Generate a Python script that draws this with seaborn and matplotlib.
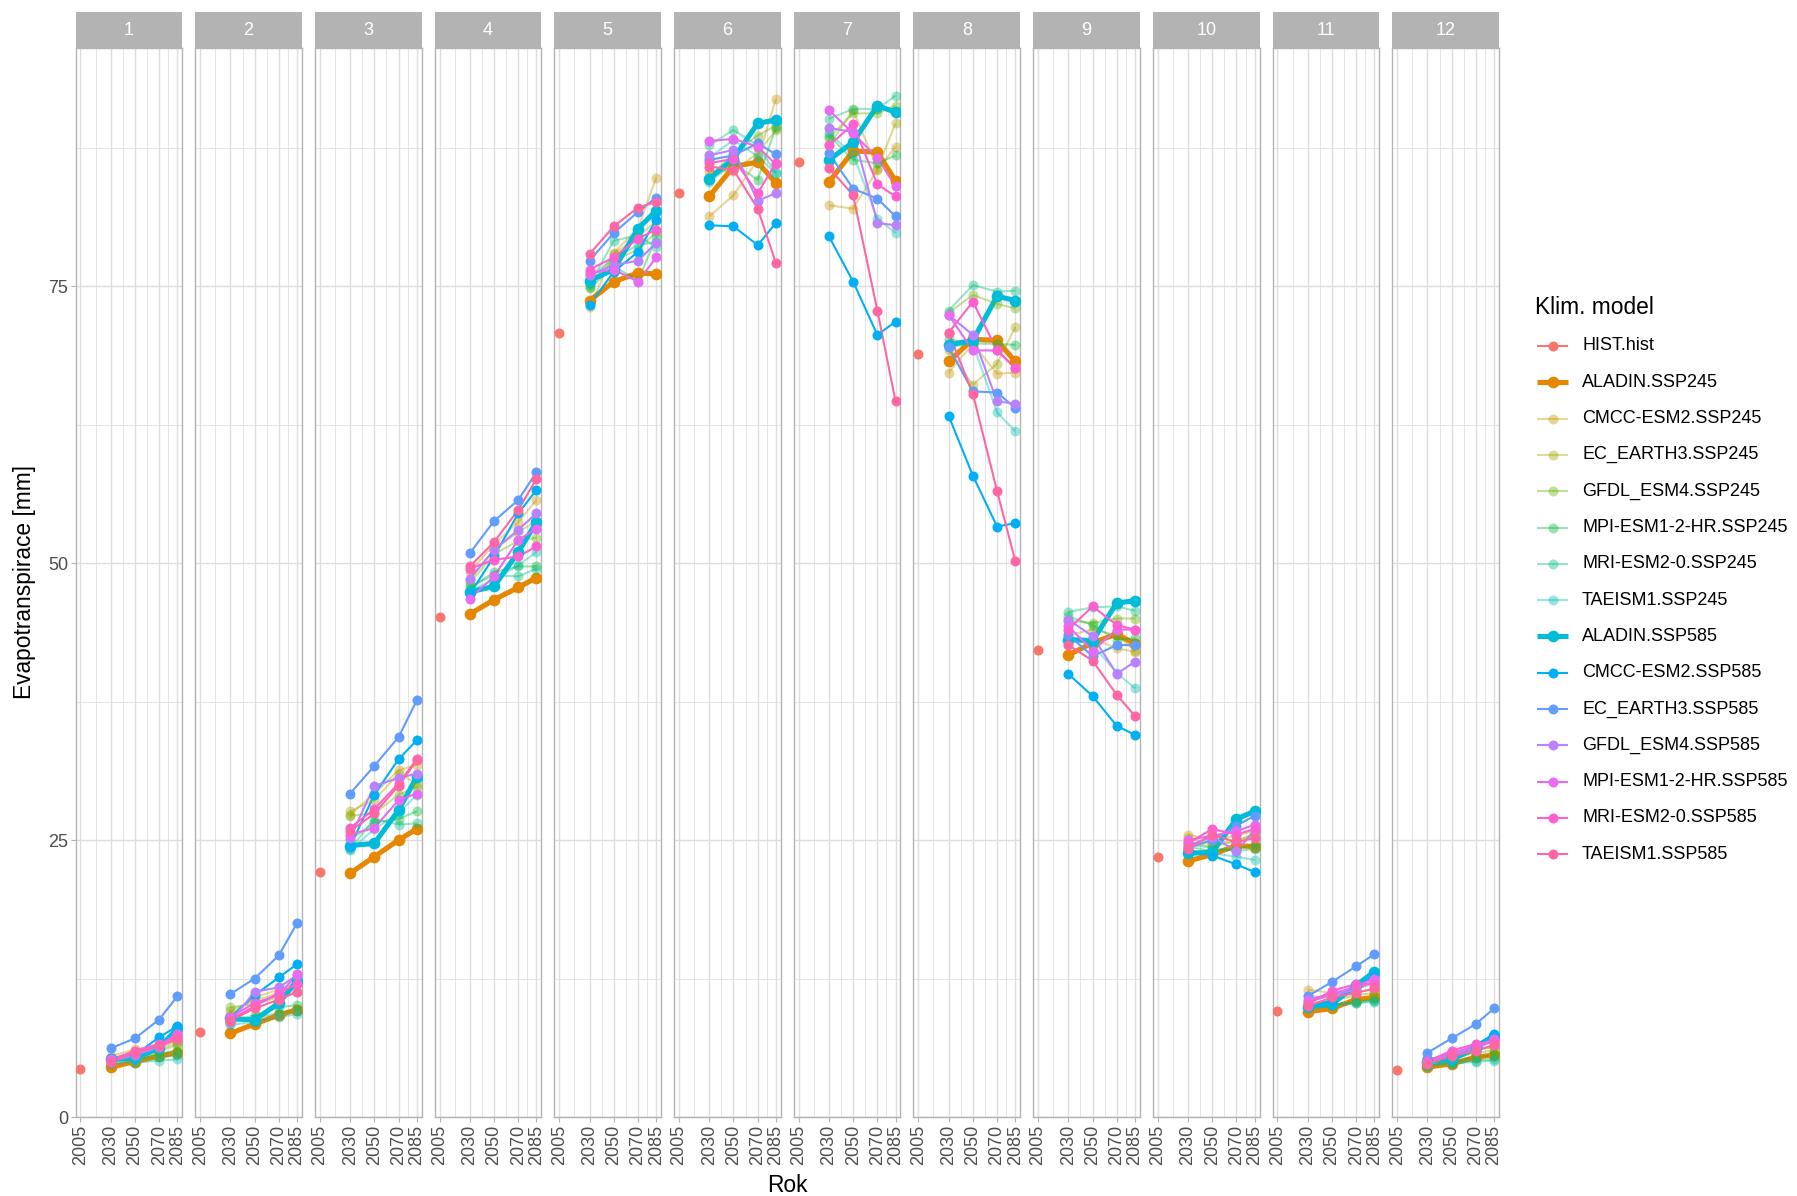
import numpy as np
import pandas as pd
import matplotlib
matplotlib.use("Agg")
import matplotlib.pyplot as plt
import seaborn as sns
from matplotlib.lines import Line2D
from matplotlib.patches import Rectangle

# ---------------------------------------------------------------- data
months = list(range(1, 13))
hist_year = 2005
years = [2030, 2050, 2070, 2085]
x_breaks = [2005, 2030, 2050, 2070, 2085]
y_breaks = [0, 25, 50, 75]

# reference period, one value per month
hist_hist = [4.3, 7.7, 22.1, 45.1, 70.8, 83.4, 86.2, 68.9, 42.2, 23.5, 9.6, 4.2]

# scenario runs: per month the values for 2030, 2050, 2070, 2085
aladin_ssp245 = [[4.5, 5.0, 5.5, 5.8], [7.55, 8.4, 9.2, 9.7], [22.0, 23.5, 25.0, 26.0],
                 [45.4, 46.7, 47.8, 48.7], [73.7, 75.4, 76.2, 76.1], [83.1, 85.8, 86.2, 84.3],
                 [84.4, 87.2, 87.1, 84.5], [68.2, 70.2, 70.1, 68.2], [41.7, 42.8, 43.6, 42.7],
                 [23.1, 23.7, 24.5, 24.4], [9.5, 9.8, 10.6, 10.8], [4.5, 4.8, 5.4, 5.6]]
cmcc_ssp245 = [[5.5, 6.1, 6.4, 6.9], [9.2, 10.8, 11.5, 12.2], [27.3, 29.2, 31.3, 31.8],
               [49.2, 51.7, 53.7, 55.7], [73.1, 78.0, 80.2, 84.8], [81.3, 83.2, 86.4, 91.9],
               [82.3, 82.0, 85.5, 87.6], [67.2, 69.8, 67.1, 67.2], [42.8, 43.2, 42.3, 42.0],
               [25.5, 25.0, 25.4, 25.8], [11.5, 11.2, 11.6, 12.0], [5.0, 5.5, 6.0, 6.4]]
ec_earth3_ssp245 = [[5.3, 5.8, 6.2, 6.7], [9.6, 10.5, 11.2, 12.0], [27.6, 28.6, 31.0, 30.1],
                    [48.5, 51.2, 52.8, 53.8], [74.9, 77.9, 79.4, 80.9], [85.4, 85.4, 87.0, 89.1],
                    [87.7, 90.9, 85.6, 89.7], [69.2, 66.1, 68.0, 71.3], [43.5, 44.0, 43.5, 42.1],
                    [25.2, 24.6, 25.0, 25.3], [10.9, 10.8, 11.3, 11.5], [5.2, 5.4, 6.1, 6.3]]
gfdl_ssp245 = [[5.1, 5.5, 6.0, 6.5], [9.9, 10.2, 10.8, 11.3], [27.2, 27.4, 29.1, 29.8],
               [48.2, 50.8, 52.0, 52.3], [75.3, 77.3, 78.3, 79.9], [84.9, 87.0, 88.6, 89.5],
               [88.4, 90.6, 90.6, 91.3], [72.6, 74.2, 73.4, 73.0], [44.8, 44.6, 45.0, 45.0],
               [24.8, 24.4, 24.9, 25.6], [10.3, 10.5, 11.0, 11.2], [4.9, 5.3, 5.8, 6.0]]
mpi_ssp245 = [[5.0, 5.3, 5.7, 6.0], [8.6, 9.2, 9.9, 10.1], [25.0, 26.6, 26.9, 27.6],
              [47.7, 49.2, 49.7, 49.7], [74.8, 76.8, 75.5, 79.4], [84.4, 86.1, 84.6, 89.3],
              [88.6, 86.4, 86.1, 86.8], [70.2, 69.8, 69.8, 69.7], [45.2, 44.4, 43.1, 43.2],
              [24.4, 24.0, 24.2, 24.6], [9.9, 10.1, 10.4, 10.6], [4.7, 5.0, 5.4, 5.6]]
mri_ssp245 = [[4.9, 5.2, 5.4, 5.6], [8.5, 8.9, 9.4, 9.6], [24.2, 26.9, 26.4, 26.5],
              [47.9, 48.9, 48.8, 49.5], [75.1, 79.1, 79.6, 78.5], [87.7, 89.1, 87.7, 85.2],
              [90.1, 91.0, 91.0, 92.2], [72.8, 75.1, 74.5, 74.6], [45.6, 46.0, 46.1, 45.7],
              [24.6, 24.3, 24.0, 24.2], [10.1, 10.2, 10.3, 10.4], [4.6, 4.9, 5.1, 5.2]]
taeism1_ssp245 = [[4.8, 4.9, 5.1, 5.2], [8.3, 8.6, 9.0, 9.3], [24.1, 26.0, 27.4, 29.1],
                  [47.5, 48.5, 49.8, 51.0], [75.8, 77.5, 78.7, 79.0], [86.6, 88.2, 86.7, 85.2],
                  [88.8, 86.9, 81.1, 79.8], [69.5, 69.8, 63.6, 61.9], [43.2, 42.6, 40.1, 38.7],
                  [24.0, 23.8, 23.5, 23.2], [9.8, 10.0, 10.3, 10.5], [4.6, 4.8, 5.0, 5.1]]
aladin_ssp585 = [[5.2, 5.3, 6.2, 8.0], [8.9, 8.75, 10.3, 12.3], [24.5, 24.7, 27.7, 30.7],
                 [47.4, 47.9, 51.0, 53.7], [75.5, 76.5, 80.2, 81.8], [84.7, 86.5, 89.7, 90.0],
                 [86.4, 88.0, 91.3, 90.7], [69.7, 70.1, 74.1, 73.7], [43.1, 43.0, 46.4, 46.6],
                 [23.8, 23.9, 26.9, 27.6], [9.9, 10.2, 11.9, 13.1], [5.0, 5.2, 6.2, 7.3]]
cmcc_ssp585 = [[5.3, 5.6, 7.2, 8.2], [9.0, 11.0, 12.6, 13.8], [24.4, 29.1, 32.3, 34.0],
               [47.2, 50.6, 54.5, 56.6], [73.3, 76.3, 78.1, 81.0], [80.5, 80.4, 78.7, 80.7],
               [79.5, 75.4, 70.6, 71.8], [63.3, 57.9, 53.3, 53.6], [40.0, 38.0, 35.3, 34.5],
               [24.1, 23.6, 22.8, 22.1], [10.0, 10.5, 11.8, 12.8], [5.2, 5.6, 6.5, 7.5]]
ec_earth3_ssp585 = [[6.2, 7.1, 8.8, 10.9], [11.1, 12.5, 14.6, 17.5], [29.2, 31.7, 34.3, 37.6],
                    [50.9, 53.8, 55.7, 58.2], [77.3, 79.8, 81.7, 83.0], [86.4, 86.8, 87.9, 86.9],
                    [87.0, 83.8, 82.9, 81.3], [69.5, 65.5, 65.4, 64.0], [43.5, 41.6, 42.6, 42.6],
                    [24.3, 25.0, 26.3, 27.2], [10.9, 12.2, 13.6, 14.7], [5.8, 7.1, 8.4, 9.8]]
gfdl_ssp585 = [[5.0, 5.6, 6.3, 7.2], [8.6, 11.3, 11.7, 12.8], [25.2, 29.9, 30.6, 31.0],
               [48.6, 51.2, 53.0, 54.5], [76.0, 76.9, 77.3, 78.9], [86.8, 87.3, 82.7, 83.4],
               [89.3, 88.9, 80.7, 80.5], [72.4, 70.6, 64.6, 64.4], [44.9, 43.4, 40.0, 41.1],
               [24.5, 25.3, 24.0, 25.9], [10.4, 11.0, 11.5, 12.3], [4.9, 5.7, 6.2, 6.9]]
mpi_ssp585 = [[5.2, 5.9, 6.5, 7.5], [9.0, 10.3, 11.0, 12.9], [25.5, 26.1, 28.6, 29.2],
              [46.8, 48.8, 52.1, 53.1], [76.2, 76.5, 75.4, 77.6], [88.1, 88.3, 87.6, 86.0],
              [90.9, 88.8, 86.6, 84.0], [72.4, 69.2, 69.2, 67.6], [44.3, 42.1, 44.0, 44.0],
              [25.0, 25.4, 25.8, 26.4], [10.6, 11.1, 11.8, 12.5], [5.1, 5.8, 6.4, 7.0]]
mri_ssp585 = [[5.1, 6.0, 6.6, 7.3], [8.8, 10.0, 11.2, 12.0], [26.1, 27.8, 30.1, 32.3],
              [49.5, 50.3, 50.6, 51.5], [76.5, 77.6, 79.3, 80.1], [86.1, 86.5, 83.4, 86.1],
              [87.7, 89.6, 84.2, 83.1], [70.8, 73.6, 69.2, 67.6], [44.0, 46.1, 44.4, 44.0],
              [24.7, 26.0, 25.5, 26.0], [10.2, 11.4, 12.0, 12.0], [5.0, 6.0, 6.6, 6.8]]
taeism1_ssp585 = [[5.0, 5.8, 6.4, 7.0], [8.7, 9.8, 10.6, 11.3], [25.8, 27.4, 29.9, 32.2],
                  [49.7, 51.9, 54.8, 57.6], [77.9, 80.4, 82.1, 82.6], [85.8, 85.5, 82.0, 77.1],
                  [85.7, 83.2, 72.8, 64.6], [70.8, 65.3, 56.5, 50.2], [42.6, 41.2, 38.1, 36.2],
                  [24.2, 25.5, 24.8, 25.2], [10.0, 10.8, 11.2, 11.6], [4.8, 5.5, 6.0, 6.5]]

model_order = ["HIST.hist", "ALADIN.SSP245", "CMCC-ESM2.SSP245", "EC_EARTH3.SSP245",
               "GFDL_ESM4.SSP245", "MPI-ESM1-2-HR.SSP245", "MRI-ESM2-0.SSP245",
               "TAEISM1.SSP245", "ALADIN.SSP585", "CMCC-ESM2.SSP585", "EC_EARTH3.SSP585",
               "GFDL_ESM4.SSP585", "MPI-ESM1-2-HR.SSP585", "MRI-ESM2-0.SSP585",
               "TAEISM1.SSP585"]
scenario_runs = {
    "ALADIN.SSP245": aladin_ssp245, "CMCC-ESM2.SSP245": cmcc_ssp245,
    "EC_EARTH3.SSP245": ec_earth3_ssp245, "GFDL_ESM4.SSP245": gfdl_ssp245,
    "MPI-ESM1-2-HR.SSP245": mpi_ssp245, "MRI-ESM2-0.SSP245": mri_ssp245,
    "TAEISM1.SSP245": taeism1_ssp245, "ALADIN.SSP585": aladin_ssp585,
    "CMCC-ESM2.SSP585": cmcc_ssp585, "EC_EARTH3.SSP585": ec_earth3_ssp585,
    "GFDL_ESM4.SSP585": gfdl_ssp585, "MPI-ESM1-2-HR.SSP585": mpi_ssp585,
    "MRI-ESM2-0.SSP585": mri_ssp585, "TAEISM1.SSP585": taeism1_ssp585,
}

rows = []
for mi, m in enumerate(months):
    rows.append({"month": m, "year": hist_year, "model": "HIST.hist", "value": hist_hist[mi]})
for name, arr in scenario_runs.items():
    for mi, m in enumerate(months):
        for yr, v in zip(years, arr[mi]):
            rows.append({"month": m, "year": yr, "model": name, "value": v})
df = pd.DataFrame(rows)

# ---------------------------------------------------------------- styling
# default ggplot hue palette for 15 levels
hue15 = ["#F8766D", "#E58700", "#C99800", "#A3A500", "#6BB100", "#00BA38", "#00BF7D",
         "#00C0AF", "#00BCD8", "#00B0F6", "#619CFF", "#B983FF", "#E76BF3", "#FD61D1",
         "#FF67A4"]
palette = dict(zip(model_order, hue15))


def style_of(name):
    if name.startswith("ALADIN"):
        return dict(lw=3.7, alpha=1.0, ms=8.4)
    if name.endswith("SSP245"):
        return dict(lw=1.5, alpha=0.4, ms=7.2)
    return dict(lw=1.5, alpha=1.0, ms=7.2)


sns.set_theme(style="white")
plt.rcParams["font.family"] = ["Liberation Sans", "DejaVu Sans"]

W, H = 1797, 1196
fig = plt.figure(figsize=(W / 100, H / 100), dpi=100)

grey70 = "#B3B3B3"
grid_col = "#DEDEDE"
txt_col = "#4D4D4D"
tick_fs = 13
title_fs = 16.4

p_left, p_w, p_pitch = 75.6, 106.6, 119.7
p_top, p_bot = 48.0, 1117.0
strip_h = 35.5

for i, m in enumerate(months):
    x0 = p_left + i * p_pitch
    ax = fig.add_axes([x0 / W, (H - p_bot) / H, p_w / W, (p_bot - p_top) / H])
    sub = df[df["month"] == m]

    # lines first, then points on top
    for name in model_order[1:]:
        d = sub[sub["model"] == name]
        st = style_of(name)
        sns.lineplot(data=d, x="year", y="value", color=palette[name], linewidth=st["lw"],
                     alpha=st["alpha"], estimator=None, sort=True, legend=False, ax=ax,
                     solid_capstyle="butt", zorder=3)
    for name in model_order:
        d = sub[sub["model"] == name]
        st = style_of(name)
        sns.scatterplot(data=d, x="year", y="value", color=palette[name],
                        s=st["ms"] ** 2, alpha=st["alpha"], linewidth=0, legend=False,
                        ax=ax, zorder=4)

    ax.set_xlim(2001, 2089)
    ax.set_ylim(0, 96.5)
    ax.set_xticks(x_breaks)
    ax.set_xticks([2017.5, 2040, 2060, 2077.5], minor=True)
    ax.set_yticks(y_breaks)
    ax.set_yticks([12.5, 37.5, 62.5, 87.5], minor=True)
    ax.grid(True, which="major", color=grid_col, linewidth=1.0, zorder=0)
    ax.grid(True, which="minor", color=grid_col, linewidth=0.55, zorder=0)
    ax.set_axisbelow(True)
    ax.set_xlabel("")
    ax.set_ylabel("")
    ax.set_xticklabels([str(v) for v in x_breaks], rotation=90, color=txt_col,
                       fontsize=tick_fs)
    ax.tick_params(axis="x", which="major", bottom=True, length=3.5, width=0.8,
                   color=grey70, pad=2)
    ax.tick_params(axis="both", which="minor", length=0)
    if i == 0:
        ax.set_yticklabels([str(v) for v in y_breaks], color=txt_col, fontsize=tick_fs)
        ax.tick_params(axis="y", which="major", left=True, length=3.5, width=0.8,
                       color=grey70, pad=2)
    else:
        ax.tick_params(axis="y", which="major", left=False, labelleft=False)
    for sp in ax.spines.values():
        sp.set_color(grey70)
        sp.set_linewidth(1.0)
        sp.set_visible(True)

    # facet strip
    ax.add_patch(Rectangle((0, 1), 1, strip_h / (p_bot - p_top), transform=ax.transAxes,
                           facecolor=grey70, edgecolor="none", clip_on=False))
    ax.text(0.5, 1 + strip_h / 2 / (p_bot - p_top), str(m), transform=ax.transAxes,
            ha="center", va="center", color="white", fontsize=tick_fs)

# axis titles
fig.text(25 / W, 1 - 582 / H, "Evapotranspirace [mm]", rotation=90, ha="center",
         va="center", fontsize=title_fs, color="black")
fig.text(787 / W, 1 - 1186 / H, "Rok", ha="center", va="center", fontsize=title_fs,
         color="black")

# legend
fig.text(1535 / W, 1 - 307 / H, "Klim. model", ha="left", va="center", fontsize=title_fs,
         color="black")
for k, name in enumerate(model_order):
    yk = 1 - (346 + k * 36.3) / H
    st = style_of(name) if name != "HIST.hist" else dict(lw=1.5, alpha=1.0, ms=7.2)
    fig.add_artist(Line2D([1537 / W, 1568 / W], [yk, yk], transform=fig.transFigure,
                          color=palette[name], linewidth=st["lw"], alpha=st["alpha"],
                          solid_capstyle="butt"))
    fig.add_artist(Line2D([1552.5 / W], [yk], transform=fig.transFigure, marker="o",
                          markersize=st["ms"], markeredgewidth=0, linestyle="none",
                          color=palette[name], alpha=st["alpha"]))
    fig.text(1582 / W, yk, name, ha="left", va="center", fontsize=tick_fs, color="black")

fig.savefig("out.png", dpi=100, facecolor="white")
